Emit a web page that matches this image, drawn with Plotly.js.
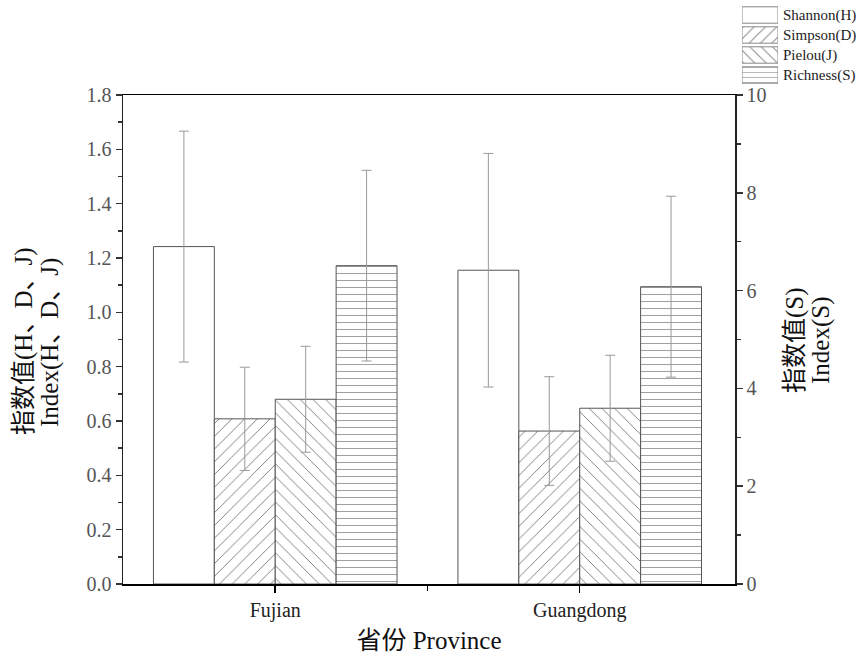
<!DOCTYPE html>
<html>
<head>
<meta charset="utf-8">
<script src="https://cdn.plot.ly/plotly-3.0.1.min.js"></script>
<style>html,body{margin:0;padding:0;background:#fff;}#chart{width:863px;height:657px;}</style>
</head>
<body>
<div id="chart"></div>
<script>
const categories = ['Fujian', 'Guangdong'];
const seriesNames = ['Shannon(H)', 'Simpson(D)', 'Pielou(J)', 'Richness(S)'];
const seriesPatterns = ['', '/', '\\', '-'];
const shannon = [1.242, 1.155];
const shannonErr = [0.425, 0.43];
const simpson = [0.608, 0.563];
const simpsonErr = [0.19, 0.2];
const pielou = [0.680, 0.647];
const pielouErr = [0.195, 0.195];
const richness = [6.51, 6.08];
const richnessErr = [1.95, 1.85];
const leftTicks = [0, 0.2, 0.4, 0.6, 0.8, 1.0, 1.2, 1.4, 1.6, 1.8];
const rightTicks = [0, 2, 4, 6, 8, 10];
const leftTitle = ['指数值(H、D、J)', 'Index(H、D、J)'];
const rightTitle = ['指数值(S)', 'Index(S)'];
const xTitle = '省份 Province';

const xIdx = categories.map((c, i) => i);
const FONT = 'Liberation Serif, Times New Roman, Noto Sans CJK SC, serif';
const W = 0.2;
const FW = 863, FH = 657;
const px = v => v / FW, py = v => 1 - v / FH;

function bar(name, y, err, k, axis) {
  const shape = seriesPatterns[k];
  return {
    type: 'bar', name: name, x: xIdx, y: y, yaxis: axis,
    width: W, offset: -0.4 + k * W,
    marker: {
      color: '#ffffff',
      line: {color: '#555555', width: 1},
      pattern: shape ? {shape: shape, fgcolor: '#777777', bgcolor: '#ffffff', size: shape === '-' ? 7 : 9, solidity: 0.1} : undefined
    },
    error_y: {type: 'data', array: err, visible: true, color: '#999999', thickness: 1, width: 5}
  };
}

const data = [
  bar(seriesNames[0], shannon, shannonErr, 0, 'y'),
  bar(seriesNames[1], simpson, simpsonErr, 1, 'y'),
  bar(seriesNames[2], pielou, pielouErr, 2, 'y'),
  bar(seriesNames[3], richness, richnessErr, 3, 'y2'),
  // legend key boxes
  {
    type: 'bar', orientation: 'h', xaxis: 'x2', yaxis: 'y3',
    y: seriesNames, x: seriesNames.map(() => 1), width: 0.82,
    marker: {
      color: '#ffffff',
      line: {color: '#888888', width: 1},
      pattern: {shape: seriesPatterns, fgcolor: '#888888', bgcolor: '#ffffff', size: seriesPatterns.map(s => s === '-' ? 5 : 8), solidity: 0.12}
    },
    hoverinfo: 'skip'
  }
];

const titleFont = {family: FONT, size: 25, color: '#111'};
function vTitle(text, xPix, yPix) {
  return {text: text, xref: 'paper', yref: 'paper', x: px(xPix), y: py(yPix),
          xanchor: 'center', yanchor: 'middle', textangle: -90, showarrow: false, font: titleFont};
}

const layout = {
  width: FW, height: FH,
  margin: {l: 0, r: 0, t: 0, b: 0, pad: 0, autoexpand: false},
  paper_bgcolor: '#ffffff', plot_bgcolor: '#ffffff',
  font: {family: FONT, color: '#222'},
  barmode: 'overlay',
  showlegend: false,
  annotations: [
    vTitle(leftTitle[0], 24, 341),
    vTitle(leftTitle[1], 50, 343),
    vTitle(rightTitle[0], 795, 340),
    vTitle(rightTitle[1], 821, 341)
  ],
  xaxis: {
    domain: [px(123), px(735)], anchor: 'y',
    range: [-0.5, 1.51],
    tickmode: 'array', tickvals: xIdx, ticktext: categories,
    ticks: 'outside', ticklen: 7, tickwidth: 1.5, tickcolor: '#000',
    minor: {tickmode: 'array', tickvals: [0.5], ticks: 'outside', ticklen: 5, tickwidth: 1.5, tickcolor: '#000'},
    showline: true, linecolor: '#000', linewidth: 1.5, mirror: true,
    showgrid: false, zeroline: false,
    tickfont: {family: FONT, size: 20, color: '#222'},
    title: {text: xTitle, font: titleFont, standoff: 11}
  },
  yaxis: {
    domain: [py(584), py(95)], anchor: 'x',
    range: [0, 1.8],
    tickmode: 'array', tickvals: leftTicks, ticktext: leftTicks.map(v => v.toFixed(1)),
    ticks: 'outside', ticklen: 6, tickwidth: 1.5, tickcolor: '#333',
    minor: {dtick: 0.1, tick0: 0, ticks: 'outside', ticklen: 4, tickwidth: 1.5, tickcolor: '#333'},
    showline: true, linecolor: '#222', linewidth: 1.5,
    showgrid: false, zeroline: false,
    tickfont: {family: FONT, size: 20, color: '#555'}
  },
  yaxis2: {
    range: [0, 10], overlaying: 'y', side: 'right', anchor: 'x',
    tickmode: 'array', tickvals: rightTicks, ticktext: rightTicks.map(String),
    ticks: 'outside', ticklen: 6, tickwidth: 1.5, tickcolor: '#333',
    minor: {dtick: 1, tick0: 0, ticks: 'outside', ticklen: 4, tickwidth: 1.5, tickcolor: '#333'},
    showline: true, linecolor: '#222', linewidth: 1.5,
    showgrid: false, zeroline: false,
    tickfont: {family: FONT, size: 20, color: '#555'}
  },
  xaxis2: {
    domain: [px(742), px(778)], anchor: 'y3',
    range: [0, 1], visible: false, fixedrange: true
  },
  yaxis3: {
    domain: [py(85), py(5)], anchor: 'x2',
    type: 'category', categoryorder: 'array', categoryarray: seriesNames,
    range: [3.5, -0.5], side: 'right',
    showline: false, showgrid: false, zeroline: false, ticks: '',
    ticklabelstandoff: 4,
    tickfont: {family: FONT, size: 15, color: '#222'}
  }
};

Plotly.newPlot('chart', data, layout, {displayModeBar: false, staticPlot: true});
</script>
</body>
</html>
